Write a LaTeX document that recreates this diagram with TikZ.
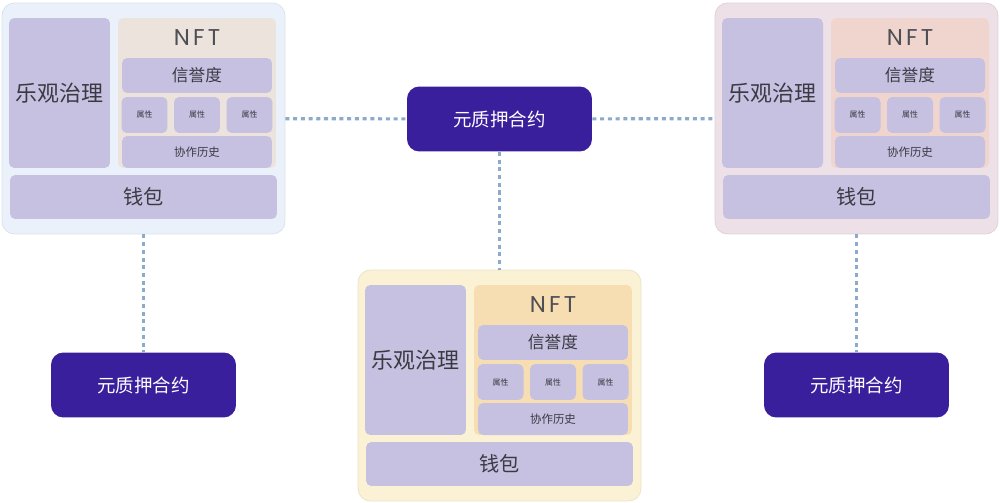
\documentclass[tikz,border=0pt]{standalone}
\usepackage{fontspec}
\setmainfont{Noto Sans CJK SC}
\newfontfamily\nftfont{Poppins}[LetterSpace=14]
\usepackage{xcolor}
\usepackage{tikz}
\usetikzlibrary{positioning}
\definecolor{ink}{HTML}{3A3A42}
\definecolor{lavender}{HTML}{C6C0E1}
\definecolor{indigo}{HTML}{3A1F9C}
\definecolor{dots}{HTML}{8CAACB}
\definecolor{bgBlue}{HTML}{EBF1FA}
\definecolor{nftBlue}{HTML}{ECE3DC}
\definecolor{bgRose}{HTML}{EEE0E7}
\definecolor{nftRose}{HTML}{F0D5CF}
\definecolor{bgSand}{HTML}{FBF2D5}
\definecolor{nftSand}{HTML}{F6DEB2}

\begin{document}
\begin{tikzpicture}[x=0.02cm,y=-0.02cm,
    shell/.style={rounded corners=7pt,minimum width=5.66cm,
                  minimum height=4.62cm,inner sep=0pt,line width=0.4pt},
    cell/.style={fill=lavender,rounded corners=3pt,inner sep=0pt,
                 font=\fontsize{9.5}{11}\selectfont\color{ink}},
    contract/.style={fill=indigo,rounded corners=7pt,minimum width=3.7cm,
                     minimum height=1.3cm,
                     font=\fontsize{10.5}{12}\selectfont\color{white}},
    link/.style={dots,line width=1.8pt,dash pattern=on 2.3pt off 2.1pt}]
  \useasboundingbox (0,0) rectangle (1000,503);

  % 三组相同的钱包结构，只是位置和底色不同
  \foreach \g/\dx/\dy/\bg/\nft in {a/0/0/bgBlue/nftBlue,
      b/356/267/bgSand/nftSand, c/713/0/bgRose/nftRose}{
    \begin{scope}[shift={(\dx,\dy)}]
      \node[shell,fill=\bg,draw=\bg!93!black] (\g-shell) at (143.5,118.5) {};
      \node[cell,minimum width=2.02cm,minimum height=3cm,
            font=\fontsize{12.5}{14}\selectfont\color{ink}] (\g-gov) at (59.5,93) {乐观治理};
      \node[fill=\nft,rounded corners=3pt,minimum width=3.16cm,
            minimum height=3cm] (\g-nft) at (197,93) {};
      \node[font=\nftfont\fontsize{13}{15}\selectfont\color{ink!90}] (\g-title) at (197,38) {NFT};
      \node[cell,minimum width=3cm,minimum height=0.7cm] (\g-rep) at (197,75.5) {信誉度};
      \foreach \k/\x in {1/144.5,2/197,3/249.5}
        \node[cell,minimum width=0.92cm,minimum height=0.72cm,
              font=\fontsize{4.5}{5}\selectfont\color{ink}] (\g-attr\k) at (\x,115) {属性};
      \node[cell,minimum width=3cm,minimum height=0.64cm,
            font=\fontsize{6.5}{8}\selectfont\color{ink}] (\g-hist) at (197,152) {协作历史};
      \node[cell,minimum width=5.34cm,minimum height=0.88cm,
            font=\fontsize{11.5}{13}\selectfont\color{ink}] (\g-wallet) at (143.5,197) {钱包};
    \end{scope}
  }

  \node[contract] (hub) at (499.5,119) {元质押合约};
  \node[contract] (ka) at (143.5,385) {元质押合约};
  \node[contract] (kc) at (856.5,385) {元质押合约};

  \draw[link] (a-shell) -- (hub);
  \draw[link] (hub) -- (c-shell);
  \draw[link] (hub) -- (b-shell);
  \draw[link] (a-shell) -- (ka);
  \draw[link] (c-shell) -- (kc);
\end{tikzpicture}
\end{document}
